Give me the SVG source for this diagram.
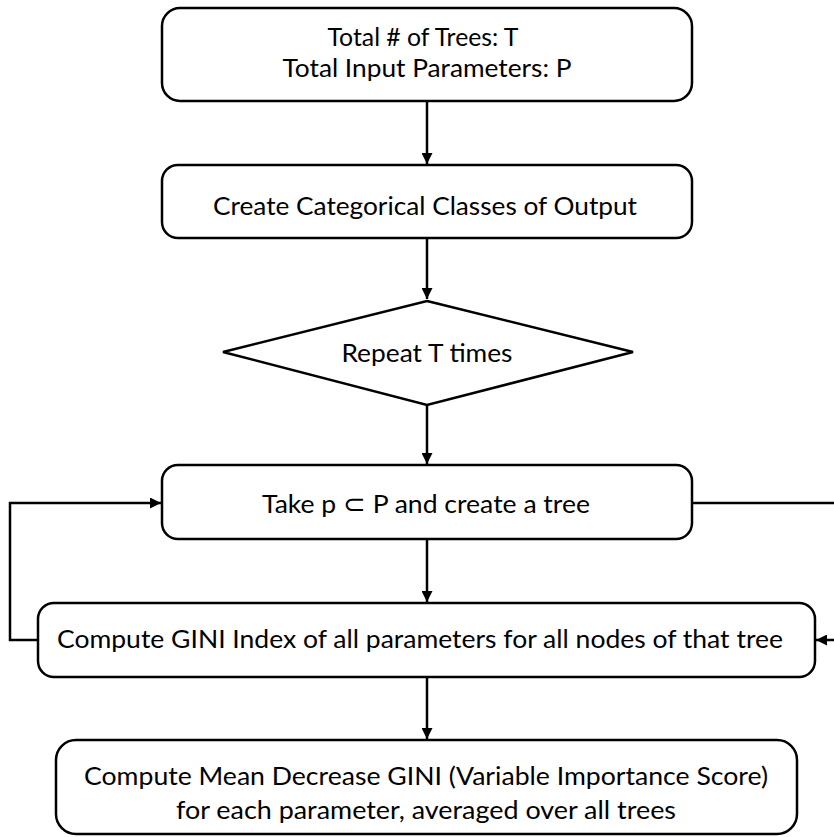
<svg xmlns="http://www.w3.org/2000/svg" width="834" height="837" viewBox="0 0 834 837">
<style>
.box{fill:#fff;stroke:#000;stroke-width:2.5}
.t{font-family:Lato,"Open Sans",sans-serif;font-size:25.5px;fill:#000;text-anchor:middle}
.c{fill:none;stroke:#000;stroke-width:2.5}
</style>
<defs>
<marker id="ah" viewBox="0 0 10 10" refX="10" refY="5" markerWidth="4.4" markerHeight="4.4" orient="auto" markerUnits="strokeWidth">
<path d="M0,0 L10,5 L0,10 z" fill="#000"/>
</marker>
</defs>
<rect width="834" height="837" fill="#fff"/>
<g id="connectors">
<line class="c" x1="427" y1="101" x2="427" y2="164" marker-end="url(#ah)"/>
<line class="c" x1="427" y1="238" x2="427" y2="299" marker-end="url(#ah)"/>
<line class="c" x1="427" y1="405" x2="427" y2="464" marker-end="url(#ah)"/>
<line class="c" x1="427" y1="539" x2="427" y2="602" marker-end="url(#ah)"/>
<line class="c" x1="427" y1="677" x2="427" y2="739" marker-end="url(#ah)"/>
<path class="c" d="M38,640 H10 V503 H161" marker-end="url(#ah)"/>
<path class="c" d="M692,503 H845 V640 H816" marker-end="url(#ah)"/>
</g>
<g id="n1">
<rect class="box" x="162" y="8" width="530" height="93" rx="18"/>
<text class="t" x="423" y="46" textLength="191" lengthAdjust="spacingAndGlyphs">Total # of Trees: T</text>
<text class="t" x="427" y="77" textLength="289" lengthAdjust="spacingAndGlyphs">Total Input Parameters: P</text>
</g>
<g id="n2">
<rect class="box" x="162" y="165" width="530" height="73" rx="16"/>
<text class="t" x="425" y="215" textLength="424" lengthAdjust="spacingAndGlyphs">Create Categorical Classes of Output</text>
</g>
<g id="n3">
<polygon class="box" points="427,301 633,352 427,405 223,352"/>
<text class="t" x="427" y="362" textLength="171" lengthAdjust="spacingAndGlyphs">Repeat T times</text>
</g>
<g id="n4">
<rect class="box" x="162" y="465" width="530" height="74" rx="16"/>
<text class="t" x="426" y="513" textLength="328" lengthAdjust="spacingAndGlyphs">Take p ⊂ P and create a tree</text>
</g>
<g id="n5">
<rect class="box" x="38" y="603" width="777" height="74" rx="16"/>
<text class="t" x="420" y="648" textLength="726" lengthAdjust="spacingAndGlyphs">Compute GINI Index of all parameters for all nodes of that tree</text>
</g>
<g id="n6">
<rect class="box" x="56" y="740" width="741" height="94" rx="20"/>
<text class="t" x="426" y="785" textLength="684" lengthAdjust="spacingAndGlyphs">Compute Mean Decrease GINI (Variable Importance Score)</text>
<text class="t" x="426" y="819" textLength="500" lengthAdjust="spacingAndGlyphs">for each parameter, averaged over all trees</text>
</g>
</svg>
